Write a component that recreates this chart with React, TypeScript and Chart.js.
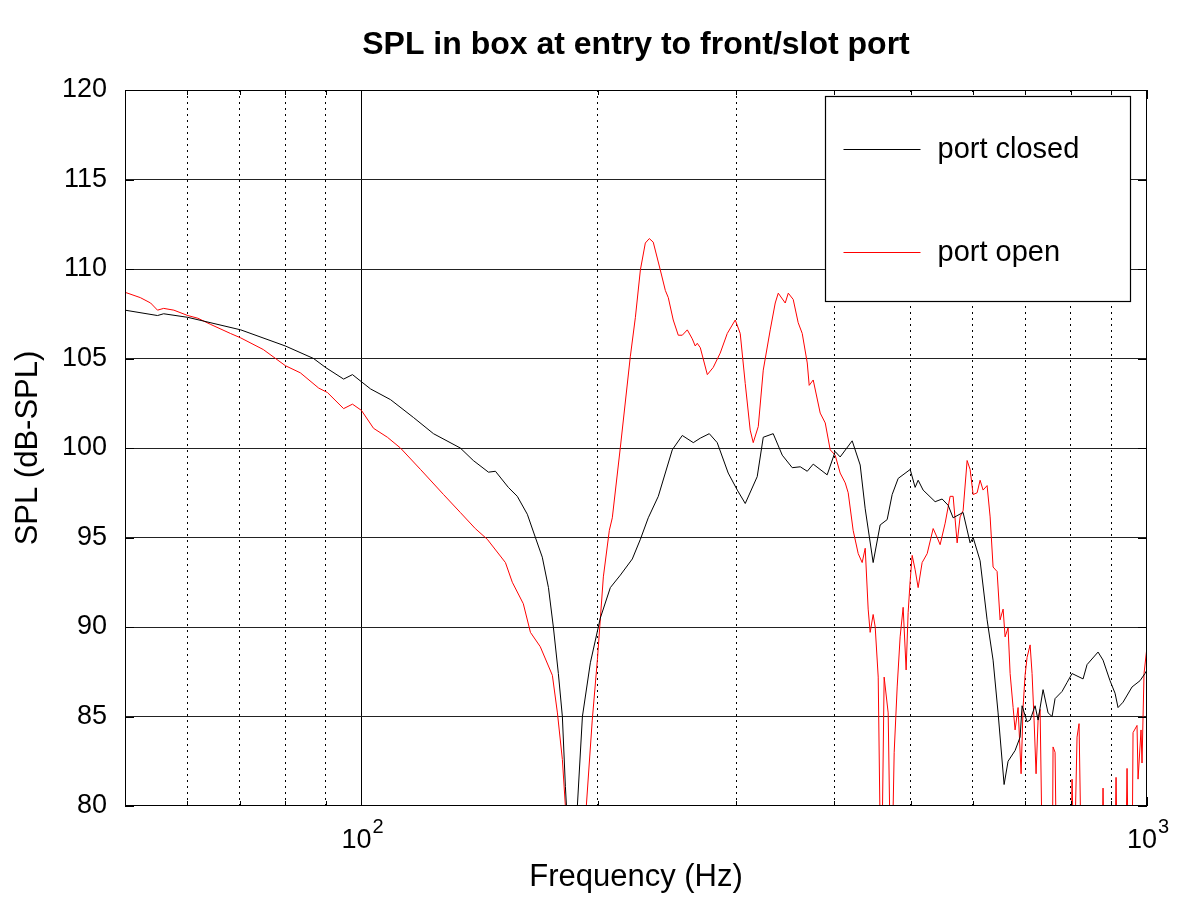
import React, { useEffect, useRef } from 'react';
import { Chart, registerables } from 'chart.js';

Chart.register(...registerables);

const chartTitle = 'SPL in box at entry to front/slot port';
const xAxisTitle = 'Frequency (Hz)';
const yAxisTitle = 'SPL (dB-SPL)';
const seriesNames = ['port closed', 'port open'];
const seriesColors = ['#000000', '#ff0000'];

const xMin = 50;
const xMax = 1000;
const xTickValues = [50, 60, 70, 80, 90, 100, 200, 300, 400, 500, 600, 700, 800, 900, 1000];
const xLabelledTicks = [100, 1000];
const xSolidGrid = [100];
const yMin = 80;
const yMax = 120;
const yStep = 5;

const closedFreqHz = [
  50, 55.0, 56.0, 60.1, 70.2, 80.0, 86.9, 90.0, 94.9, 97.4,
  100, 102.7, 108.9, 116.5, 123.5, 133.6, 138.8, 145.1, 148.1, 153.8,
  157.9, 162.6, 166.5, 169.9, 173.0, 175.5, 178.1, 180.2, 181.8, 185.5,
  188.3, 191.1, 195.6, 201.4, 207.4, 213.6, 221.2, 226.5, 231.8, 238.7,
  248.7, 256.1, 264.5, 270.0, 277.2, 283.7, 293.0, 300.9, 308.0, 319.0,
  324.7, 334.3, 343.3, 353.5, 361.9, 369.4, 375.9, 391.6, 400.9, 406.8,
  421.4, 431.4, 437.8, 448.1, 457.4, 466.9, 473.8, 482.2, 499.5, 506.8,
  511.3, 518.8, 537.4, 548.5, 558.3, 566.5, 583.3, 595.4, 600.7, 613.1,
  625.8, 636.9, 646.3, 657.8, 665.5, 679.3, 689.4, 693.4, 703.6, 709.9,
  720.3, 726.7, 737.4, 748.3, 757.1, 763.8, 779.6, 791.1, 802.8, 829.1,
  838.9, 866.3, 879.1, 897.3, 910.6, 918.6, 932.2, 957.1, 979.8, 994,
  1000,
];
const closedSpl = [
  107.7, 107.4, 107.5, 107.3, 106.6, 105.7, 105.0, 104.5, 103.85, 104.1,
  103.7, 103.3, 102.7, 101.7, 100.8, 100.0, 99.3, 98.65, 98.7, 97.8,
  97.3, 96.3, 95.0, 93.9, 92.2, 90.0, 87.4, 85.0, 81.1, 74,
  80, 85, 88, 90.5, 92.2, 92.9, 93.8, 94.9, 96.1, 97.3,
  99.9, 100.7, 100.3, 100.55, 100.8, 100.3, 98.6, 97.65, 96.9, 98.4,
  100.6, 100.8, 99.6, 98.9, 98.95, 98.7, 99.1, 98.5, 99.8, 99.5,
  100.4, 99.05, 96.6, 93.6, 95.7, 96.0, 97.4, 98.3, 98.8, 97.8,
  98.2, 97.65, 97.0, 97.15, 96.8, 96.1, 96.4, 94.7, 95.0, 93.7,
  90.4, 88.15, 85.2, 81.2, 82.5, 83.1, 83.85, 85.6, 84.7, 84.8,
  85.6, 84.8, 86.5, 85.2, 85.0, 86.0, 86.4, 86.9, 87.4, 87.1,
  87.9, 88.6, 88.15, 87.0, 86.3, 85.5, 85.8, 86.65, 87.0, 87.4,
  87.6,
];

const openFreqHz = [
  50, 52.3, 53.9, 55.0, 56.0, 57.7, 60.1, 61.9, 64.3, 68.1,
  70.2, 75.0, 80.0, 83.6, 88.2, 90.5, 94.9, 97.4, 100, 103.6,
  107.9, 112.1, 118.9, 127.2, 133.6, 139.6, 144.6, 152.5, 155.6, 160.7,
  164.1, 168.9, 175.0, 177.6, 180.2, 181.8, 187.2, 193.3, 196.7, 199.7,
  203.2, 206.8, 208.6, 213.6, 219.9, 223.2, 226.5, 229.8, 232.5, 235.2,
  240.1, 243.7, 245.8, 249.4, 253.1, 256.1, 259.9, 263.7, 266.0, 267.6,
  270.0, 275.6, 280.4, 286.2, 292.2, 299.1, 303.5, 308.0, 312.5, 315.3,
  320.0, 324.7, 331.4, 336.3, 339.3, 346.3, 349.4, 354.5, 359.7, 364.0,
  369.4, 371.5, 375.9, 383.7, 389.4, 395.1, 400.9, 406.8, 412.9, 416.5,
  422.6, 428.9, 433.9, 437.8, 441.6, 444.2, 448.1, 450.8, 454.8, 458.8,
  462.8, 468.3, 472.4, 476.6, 480.8, 485.0, 489.3, 493.6, 496.5, 499.5,
  502.4, 506.8, 511.3, 517.3, 525.0, 534.3, 540.6, 545.3, 553.4, 561.5,
  566.5, 573.2, 578.2, 583.3, 590.2, 595.4, 600.7, 607.8, 613.1, 618.5,
  625.8, 631.4, 636.9, 644.4, 650.1, 655.9, 659.7, 665.5, 669.5, 675.4,
  679.3, 685.3, 691.4, 695.4, 699.5, 703.6, 709.9, 714.0, 718.2, 722.4,
  726.7, 731.0, 737.4, 757.1, 759.3, 763.8, 768.3, 798.1, 802.8, 807.5,
  814.6, 819.4, 826.7, 874.0, 879.1, 884.3, 907.9, 913.3, 918.6, 937.7,
  943.2, 948.7, 957.1, 959.9, 971.2, 974.1, 982.7, 985.5, 991.3, 1000,
];
const openSpl = [
  108.7, 108.4, 108.1, 107.7, 107.8, 107.7, 107.4, 107.25, 106.9, 106.4,
  106.15, 105.5, 104.6, 104.2, 103.35, 103.1, 102.2, 102.45, 102.1, 101.1,
  100.6, 100.0, 98.8, 97.4, 96.4, 95.5, 94.9, 93.6, 92.5, 91.3,
  89.7, 88.9, 87.3, 85.2, 82.6, 80.0, 74, 80.0, 84.8, 88.2,
  92.8, 95.4, 96.1, 100.05, 105.1, 107.3, 109.95, 111.45, 111.7, 111.5,
  109.95, 108.8, 108.4, 107.15, 106.3, 106.3, 106.6, 106.1, 105.7, 105.85,
  105.6, 104.1, 104.5, 105.3, 106.4, 107.15, 106.4, 103.6, 101.0, 100.3,
  101.2, 104.35, 106.6, 108.1, 108.65, 108.1, 108.65, 108.3, 107.0, 106.4,
  104.75, 103.5, 103.8, 101.95, 101.4, 99.9, 99.6, 98.6, 98.05, 97.5,
  95.4, 94.1, 93.6, 94.4, 91.0, 89.7, 90.7, 90.0, 87.2, 74,
  87.2, 85.2, 74, 83.0, 86.65, 89.45, 91.1, 87.6, 90.8, 92.6,
  94.0, 93.2, 92.2, 93.6, 94.1, 95.5, 95.0, 94.6, 95.8, 97.3,
  97.3, 94.7, 96.15, 96.5, 99.3, 98.8, 97.4, 97.5, 98.2, 97.65,
  97.9, 96.15, 93.35, 93.1, 90.4, 91.0, 89.45, 89.95, 87.4, 85.5,
  84.25, 85.5, 81.8, 85.5, 87.3, 88.3, 89.0, 87.4, 84.8, 81.8,
  84.8, 85.4, 74, 74, 83.3, 83.0, 74, 74, 81.5, 76,
  83.85, 84.6, 74, 74, 81.0, 74, 74, 81.6, 74, 74,
  82.1, 74, 76, 84.1, 84.5, 81.5, 84.25, 82.4, 87.4, 88.9,
];

const FONT = "'Liberation Sans', Arial, Helvetica, sans-serif";

function toPoints(xs: number[], ys: number[]) {
  return xs.map((x, i) => ({ x, y: ys[i] }));
}

const frameLegendPlugin = {
  id: 'frameLegend',
  afterDraw(chart: any) {
    const { ctx, chartArea: a } = chart;
    const xs = chart.scales.x;
    const ys = chart.scales.y;
    ctx.save();
    ctx.strokeStyle = '#000';
    ctx.lineWidth = 1;
    ctx.setLineDash([]);
    // inward tick marks on the borders
    ctx.beginPath();
    for (const v of xTickValues) {
      const px = Math.round(xs.getPixelForValue(v)) + 0.5;
      const len = xLabelledTicks.includes(v) || xSolidGrid.includes(v) ? 9 : 5;
      ctx.moveTo(px, a.bottom);
      ctx.lineTo(px, a.bottom - len);
      ctx.moveTo(px, a.top);
      ctx.lineTo(px, a.top + len);
    }
    for (let v = yMin; v <= yMax; v += yStep) {
      const py = Math.round(ys.getPixelForValue(v)) + 0.5;
      ctx.moveTo(a.left, py);
      ctx.lineTo(a.left + 9, py);
      ctx.moveTo(a.right, py);
      ctx.lineTo(a.right - 9, py);
    }
    ctx.stroke();
    // frame
    const l = Math.round(a.left) + 0.5;
    const t = Math.round(a.top) + 0.5;
    const r = Math.round(a.right) - 0.5;
    const b = Math.round(a.bottom) - 0.5;
    ctx.strokeRect(l, t, r - l, b - t);

    // x tick labels as powers of ten with raised exponent
    ctx.fillStyle = '#000';
    ctx.textAlign = 'left';
    ctx.textBaseline = 'alphabetic';
    for (const v of xLabelledTicks) {
      const px = xs.getPixelForValue(v);
      const exp = String(Math.round(Math.log10(v)));
      ctx.font = `27px ${FONT}`;
      const baseW = ctx.measureText('10').width;
      ctx.font = `20px ${FONT}`;
      const expW = ctx.measureText(exp).width;
      const left = px - (baseW + expW + 1) / 2 + 1;
      ctx.font = `27px ${FONT}`;
      ctx.fillText('10', left, a.bottom + 42);
      ctx.font = `20px ${FONT}`;
      ctx.fillText(exp, left + baseW + 1, a.bottom + 27);
    }

    // legend box
    const bw = 305;
    const bh = 205;
    const bx = Math.round(a.right) - 322 + 0.5;
    const by = Math.round(a.top) + 6 + 0.5;
    ctx.fillStyle = '#ffffff';
    ctx.fillRect(bx, by, bw, bh);
    ctx.strokeStyle = '#000';
    ctx.lineWidth = 1.2;
    ctx.strokeRect(bx, by, bw, bh);
    const rows = [52, 155];
    chart.data.datasets.forEach((ds: any, i: number) => {
      const yRow = Math.round(by + rows[i]) + 0.5;
      ctx.strokeStyle = ds.borderColor;
      ctx.lineWidth = 1;
      ctx.beginPath();
      ctx.moveTo(bx + 18, yRow);
      ctx.lineTo(bx + 95, yRow);
      ctx.stroke();
      ctx.fillStyle = '#000';
      ctx.font = `29px ${FONT}`;
      ctx.textAlign = 'left';
      ctx.textBaseline = 'middle';
      ctx.fillText(ds.label, bx + 112, yRow);
    });
    ctx.restore();
  },
};

export default function App() {
  const canvasRef = useRef<HTMLCanvasElement | null>(null);

  useEffect(() => {
    document.body.style.margin = '0';
    const canvas = canvasRef.current;
    if (!canvas) return;
    const chart = new Chart(canvas, {
      type: 'line',
      data: {
        datasets: [
          {
            label: seriesNames[0],
            data: toPoints(closedFreqHz, closedSpl),
            borderColor: seriesColors[0],
            backgroundColor: seriesColors[0],
            borderWidth: 1,
            pointRadius: 0,
            tension: 0,
            fill: false,
          },
          {
            label: seriesNames[1],
            data: toPoints(openFreqHz, openSpl),
            borderColor: seriesColors[1],
            backgroundColor: seriesColors[1],
            borderWidth: 1,
            pointRadius: 0,
            tension: 0,
            fill: false,
          },
        ],
      },
      options: {
        responsive: false,
        animation: false,
        devicePixelRatio: 1,
        layout: { padding: { left: 0, right: 53, top: 0, bottom: 0 } },
        plugins: {
          legend: { display: false },
          tooltip: { enabled: false },
          title: {
            display: true,
            text: chartTitle,
            fullSize: false,
            color: '#000',
            font: { family: FONT, size: 32, weight: 'bold', lineHeight: 1.2 },
            padding: { top: 25.8, bottom: 25.8 },
          },
        },
        scales: {
          x: {
            type: 'logarithmic',
            min: xMin,
            max: xMax,
            afterBuildTicks: (scale: any) => {
              scale.ticks = xTickValues.map((v) => ({ value: v }));
            },
            afterFit: (scale: any) => {
              scale.height = 94;
            },
            ticks: {
              autoSkip: false,
              maxRotation: 0,
              minRotation: 0,
              padding: 16,
              color: '#000',
              font: { family: FONT, size: 27 },
              callback: () => '',
            },
            grid: {
              drawTicks: false,
              lineWidth: 1,
              color: (ctx: any) => {
                const v = ctx.tick ? ctx.tick.value : null;
                if (v === xMin || v === xMax) return 'rgba(0,0,0,0)';
                return '#000';
              },
            },
            border: {
              display: false,
              dash: (ctx: any) => {
                const v = ctx.tick ? ctx.tick.value : null;
                return xSolidGrid.includes(v) ? [] : [2, 4];
              },
            },
            title: {
              display: true,
              text: xAxisTitle,
              color: '#000',
              font: { family: FONT, size: 31, lineHeight: 1.2 },
              padding: { top: 0, bottom: 4.4 },
            },
          },
          y: {
            type: 'linear',
            min: yMin,
            max: yMax,
            afterFit: (scale: any) => {
              scale.width = 125;
            },
            ticks: {
              stepSize: yStep,
              padding: 18,
              color: '#000',
              font: { family: FONT, size: 27 },
            },
            grid: {
              drawTicks: false,
              lineWidth: 1,
              color: (ctx: any) => {
                const v = ctx.tick ? ctx.tick.value : null;
                if (v === yMin || v === yMax) return 'rgba(0,0,0,0)';
                return '#222';
              },
            },
            border: { display: false },
            title: {
              display: true,
              text: yAxisTitle,
              color: '#000',
              font: { family: FONT, size: 31, lineHeight: 1.2 },
              padding: { top: 10, bottom: 0 },
            },
          },
        },
      },
      plugins: [frameLegendPlugin],
    } as any);
    return () => chart.destroy();
  }, []);

  return (
    <div style={{ position: 'absolute', left: 0, top: 0, width: 1200, height: 900, background: '#fff' }}>
      <canvas ref={canvasRef} width={1200} height={900} style={{ width: 1200, height: 900, display: 'block' }} />
    </div>
  );
}
